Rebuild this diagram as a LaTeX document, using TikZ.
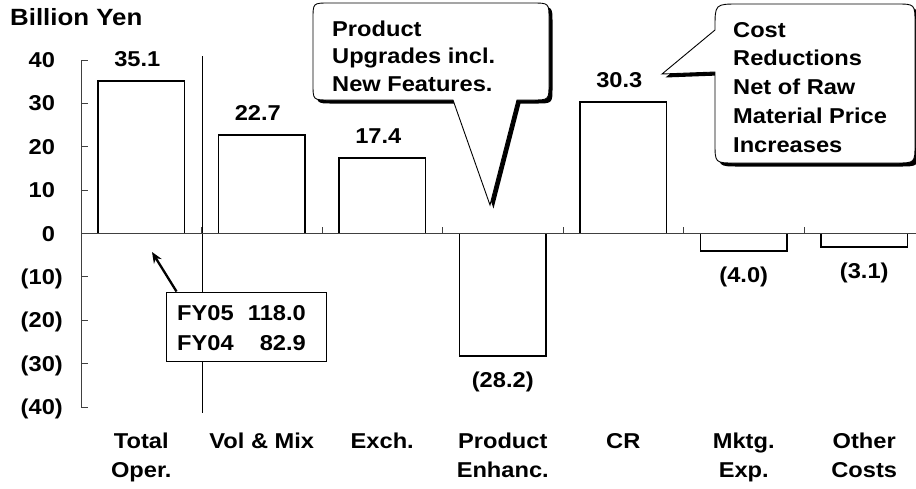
\documentclass[tikz,border=0pt]{standalone}
\usepackage{fontspec}
\setmainfont{Liberation Sans}[FakeStretch=1.1]
\usetikzlibrary{arrows.meta,calc}
\newcommand\lblfont{\fontsize{21.5}{26}\selectfont\bfseries}
\begin{document}
\begin{tikzpicture}[x=1pt,y=-1pt,
  every node/.style={inner sep=0pt,font=\lblfont},
  bar/.style={draw=black,line width=1.6pt,fill=white},
  axisline/.style={draw=black!75,line width=0.9pt},
  tickline/.style={draw=black!75,line width=0.9pt},
  sepline/.style={draw=black,line width=0.9pt},
  calloutbody/.style={fill=white,draw=black,line width=0.9pt},
  calloutshadow/.style={fill=black},
  catlabel/.style={anchor=north,align=center,font=\fontsize{21.5}{29}\selectfont\bfseries},
  vallabel/.style={anchor=base},
  ylabel/.style={anchor=base east},
  fyframe/.style={draw=black,line width=0.9pt,fill=white,minimum width=160pt,minimum height=69pt},
  pointer/.style={line width=2.3pt,-{Stealth[length=11pt,width=9pt]}}
]
\useasboundingbox[fill=white] (0,0) rectangle (916,488);

% title
\node[anchor=base west,font=\fontsize{23.5}{28}\selectfont\bfseries] (title) at (10,25) {Billion Yen};

% separator line
\draw[sepline] (202,56) -- (202,413);

% bars
\foreach \c/\v in {141.25/35.1,261.75/22.7,382.25/17.4,502.75/-28.2,623.25/30.3,743.75/-4.0,864.25/-3.1}{
  \draw[bar] (\c-43.3,233.5) rectangle (\c+43.3,{233.5-4.3375*\v});
}

% axes
\draw[axisline] (81,60) -- (81,407);
\foreach \v in {40,30,...,-40}{
  \draw[tickline] (81,{233.5-4.3375*\v}) -- (88,{233.5-4.3375*\v});
}
\draw[axisline] (81,233.5) -- (916,233.5);
\foreach \x in {201.75,322.25,442.75,563.25,683.75,804.25}{
  \draw[tickline] (\x,233.5) -- (\x,226.5);
}

% y labels
\node[ylabel] (y40) at (63,{233.5-4.3375*40+7.5}) {40\hphantom{)}};
\node[ylabel] (y30) at (63,{233.5-4.3375*30+7.5}) {30\hphantom{)}};
\node[ylabel] (y20) at (63,{233.5-4.3375*20+7.5}) {20\hphantom{)}};
\node[ylabel] (y10) at (63,{233.5-4.3375*10+7.5}) {10\hphantom{)}};
\node[ylabel] (y0) at (63,{233.5+7.5}) {0\hphantom{)}};
\node[ylabel] (ym10) at (63,{233.5+4.3375*10+7.5}) {(10)};
\node[ylabel] (ym20) at (63,{233.5+4.3375*20+7.5}) {(20)};
\node[ylabel] (ym30) at (63,{233.5+4.3375*30+7.5}) {(30)};
\node[ylabel] (ym40) at (63,{233.5+4.3375*40+7.5}) {(40)};

% value labels
\node[vallabel] (v1) at (141.25,66.25) {35.1\hphantom{)}};
\node[vallabel] (v2) at (261.75,120.0) {22.7\hphantom{)}};
\node[vallabel] (v3) at (382.25,143.0) {17.4\hphantom{)}};
\node[vallabel] (v4) at (502.75,387.3) {(28.2)};
\node[vallabel] (v5) at (623.25,87.0) {30.3\hphantom{)}};
\node[vallabel] (v6) at (743.75,282.3) {(4.0)};
\node[vallabel] (v7) at (864.25,278.4) {(3.1)};

% category labels
\node[catlabel] (c1) at (141.25,433) {Total\\Oper.};
\node[catlabel] (c2) at (261.75,433) {Vol \& Mix};
\node[catlabel] (c3) at (382.25,433) {Exch.};
\node[catlabel] (c4) at (502.75,433) {Product\\Enhanc.};
\node[catlabel] (c5) at (623.25,433) {CR};
\node[catlabel] (c6) at (743.75,433) {Mktg.\\Exp.};
\node[catlabel] (c7) at (864.25,433) {Other\\Costs};

% FY box and arrow
\node[fyframe] (fybox) at (246,326.5) {};
\node[anchor=base west] (fy05) at (177,320) {FY05};
\node[anchor=base east] (fy05v) at (306,320) {118.0};
\node[anchor=base west] (fy04) at (177,350) {FY04};
\node[anchor=base east] (fy04v) at (306,350) {82.9};
\coordinate (arrtip) at (152,252);
\coordinate (arrstart) at ($(fybox.north west)+(11,0)$);
\draw[pointer] (arrstart) -- (arrtip);

% callout 1
\def\calloutA{(490,205) -- (517,100) -- (532,100) .. controls (549,100) .. (549,84) -- (549,19) .. controls (549,3) .. (532,3) -- (329,3) .. controls (313,3) .. (313,19) -- (313,84) .. controls (313,100) .. (329,100) -- (453,100) -- cycle}
\path[calloutshadow,shift={(3.5,3.5)}] \calloutA;
\path[calloutbody] \calloutA;
\node[anchor=north west,align=left,font=\fontsize{21.5}{27.5}\selectfont\bfseries] (callA) at (332,20.7) {Product\\Upgrades incl.\\New Features.};

% callout 2
\def\calloutB{(662,74) -- (715,72) -- (715,143) .. controls (715,163) .. (735,163) -- (896,163) .. controls (915,163) .. (915,144) -- (915,23) .. controls (915,4) .. (896,4) -- (739,4) .. controls (715,4) .. (715,28) -- (715,30) -- cycle}
\path[calloutshadow,shift={(3.5,3.5)}] \calloutB;
\path[calloutbody] \calloutB;
\node[anchor=north west,align=left,font=\fontsize{21.5}{28.7}\selectfont\bfseries] (callB) at (733,22) {Cost\\Reductions\\Net of Raw\\Material Price\\Increases};
\end{tikzpicture}
\end{document}
